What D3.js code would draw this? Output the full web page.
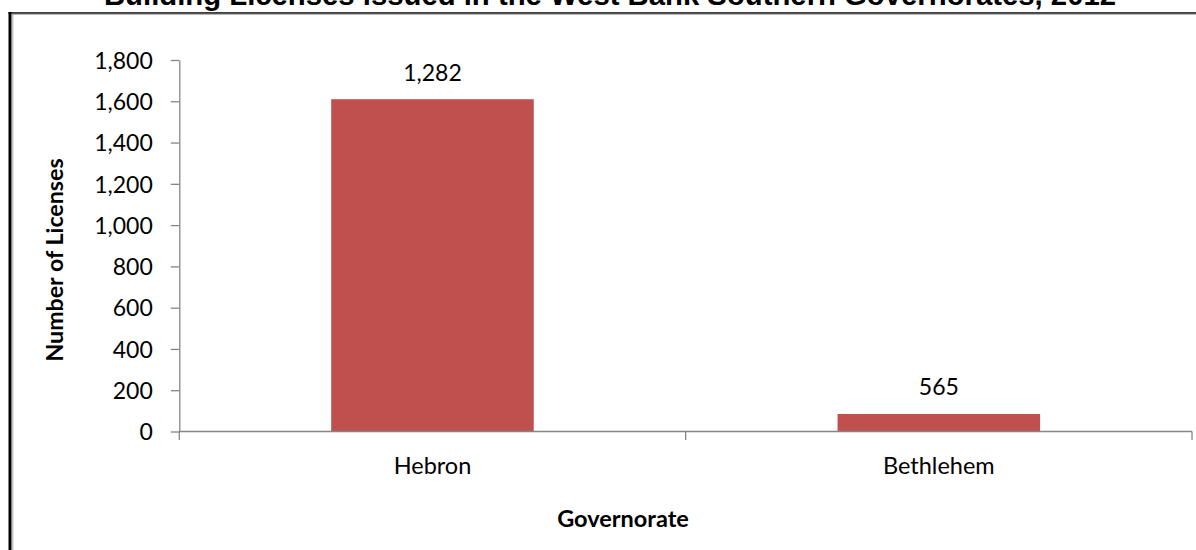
<!DOCTYPE html>
<html>
<head>
<meta charset="utf-8">
<script src="https://cdn.jsdelivr.net/npm/d3@7"></script>
<style>
  html, body { margin: 0; padding: 0; background: #fff; }
  svg { display: block; }
</style>
</head>
<body>
<svg id="chart" width="1196" height="550"></svg>
<script>
const categories = ["Hebron", "Bethlehem"];
const barValues = [1610, 85];           // bar heights as drawn
const valueLabels = ["1,282", "565"];   // data labels as printed
const yTicks = [0, 200, 400, 600, 800, 1000, 1200, 1400, 1600, 1800];
const titleText = "Building Licenses issued in the West Bank Southern Governorates, 2012";
const yTitle = "Number of Licenses";
const xTitle = "Governorate";

const W = 1196, H = 550;
const plot = { left: 179.3, right: 1192, top: 60, bottom: 431.5 };
const axisColor = "#868686";
const barColor = "#C0504D";
const tickFont = "Lato, 'Open Sans', sans-serif";

const svg = d3.select("#chart");

// Frame (double border, right/bottom off canvas)
svg.append("line").attr("x1", 10).attr("x2", 10).attr("y1", 12).attr("y2", H + 10)
  .attr("stroke", "#000").attr("stroke-width", 3);
svg.append("line").attr("x1", 8.5).attr("x2", W + 10).attr("y1", 13).attr("y2", 13)
  .attr("stroke", "#000").attr("stroke-width", 1.6);
svg.append("line").attr("x1", 12.8).attr("x2", 12.8).attr("y1", 14).attr("y2", H + 10)
  .attr("stroke", "#a6a6a6").attr("stroke-width", 1);
svg.append("line").attr("x1", 12.5).attr("x2", W + 10).attr("y1", 14.3).attr("y2", 14.3)
  .attr("stroke", "#a6a6a6").attr("stroke-width", 1);

// Title (clipped at top, as in the reference)
svg.append("text")
  .attr("x", 610).attr("y", 5)
  .attr("text-anchor", "middle")
  .style("font-family", "'Liberation Sans', Arial, sans-serif")
  .style("font-weight", "bold")
  .style("font-size", "29.3px")
  .attr("fill", "#000")
  .text(titleText);

const x = d3.scaleBand().domain(categories).range([plot.left, plot.right]).padding(0);
const y = d3.scaleLinear().domain([0, 1800]).range([plot.bottom, plot.top]);

// Y axis
const yAxis = svg.append("g")
  .attr("transform", `translate(${plot.left},0)`)
  .call(d3.axisLeft(y).tickValues(yTicks).tickSize(8.5).tickSizeOuter(0).tickPadding(18)
    .tickFormat(d3.format(",")));
yAxis.select(".domain").attr("stroke", axisColor).attr("stroke-width", 1.3);
yAxis.selectAll(".tick line").attr("stroke", axisColor).attr("stroke-width", 1.3);
yAxis.selectAll(".tick text")
  .attr("dy", "0.36em")
  .style("font-family", tickFont).style("font-size", "23px").attr("fill", "#000");

// Bars
const barInset = 0.3, barFrac = 0.4;
svg.append("g").selectAll("rect")
  .data(categories)
  .join("rect")
  .attr("x", (c) => x(c) + x.bandwidth() * barInset)
  .attr("width", x.bandwidth() * barFrac)
  .attr("y", (c, i) => y(barValues[i]))
  .attr("height", (c, i) => y(0) - y(barValues[i]))
  .attr("fill", barColor);

// X axis line and boundary ticks
const xAxis = svg.append("g");
xAxis.append("line")
  .attr("x1", plot.left).attr("x2", x.range()[1])
  .attr("y1", y(0)).attr("y2", y(0))
  .attr("stroke", axisColor).attr("stroke-width", 1.3);
const bounds = categories.map((c) => x(c)).concat([x.range()[1]]);
xAxis.selectAll("line.bt")
  .data(bounds)
  .join("line")
  .attr("class", "bt")
  .attr("x1", (d) => d).attr("x2", (d) => d)
  .attr("y1", y(0)).attr("y2", y(0) + 8.5)
  .attr("stroke", axisColor).attr("stroke-width", 1.3);
xAxis.selectAll("text.cat")
  .data(categories)
  .join("text")
  .attr("class", "cat")
  .attr("x", (c) => x(c) + x.bandwidth() / 2)
  .attr("y", y(0) + 42.5)
  .attr("text-anchor", "middle")
  .style("font-family", tickFont).style("font-size", "23.5px").attr("fill", "#000")
  .text((c) => c);

// Data labels
svg.append("g").selectAll("text")
  .data(categories)
  .join("text")
  .attr("x", (c) => x(c) + x.bandwidth() / 2)
  .attr("y", (c, i) => y(barValues[i]) - 18.5)
  .attr("text-anchor", "middle")
  .style("font-family", tickFont).style("font-size", "23px").attr("fill", "#000")
  .text((c, i) => valueLabels[i]);

// Axis titles
svg.append("text")
  .attr("transform", `translate(63,260) rotate(-90)`)
  .attr("text-anchor", "middle")
  .style("font-family", tickFont).style("font-weight", "bold").style("font-size", "23.2px")
  .attr("fill", "#000")
  .text(yTitle);

svg.append("text")
  .attr("x", 623).attr("y", 527)
  .attr("text-anchor", "middle")
  .style("font-family", tickFont).style("font-weight", "bold").style("font-size", "23.5px")
  .attr("fill", "#000")
  .text(xTitle);
</script>
</body>
</html>
